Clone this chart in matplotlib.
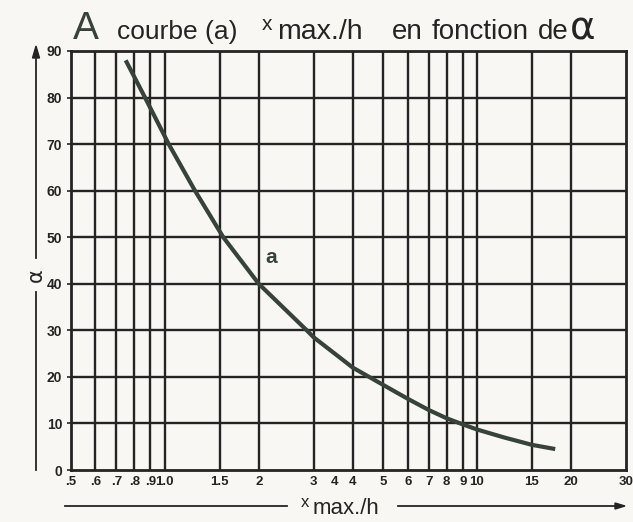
import matplotlib
matplotlib.use("Agg")
import matplotlib.pyplot as plt
from matplotlib.lines import Line2D

# ---- data ----
curve_x = [0.75, 0.865, 1.03, 1.25, 1.54, 2.0, 2.85, 3.0, 4.0, 5.0, 6.0, 7.0, 8.0, 9.0, 10.0, 12.2, 15.0, 17.8]
curve_alpha = [88, 80, 70, 60, 50, 40, 30, 28.5, 22, 18.3, 15.3, 12.9, 11.1, 9.8, 8.7, 7.0, 5.4, 4.5]

x_tick_values = [0.5, 0.6, 0.7, 0.8, 0.9, 1.0, 1.5, 2, 3, 3.5, 4, 5, 6, 7, 8, 9, 10, 15, 20, 30]
x_tick_labels = [".5", ".6", ".7", ".8", ".9", "1.0", "1.5", "2", "3", "4", "4", "5", "6", "7", "8", "9", "10", "15", "20", "30"]
x_grid_values = [0.6, 0.7, 0.8, 0.9, 1.0, 1.5, 2, 3, 4, 5, 6, 7, 8, 9, 10, 15, 20]
y_tick_values = [0, 10, 20, 30, 40, 50, 60, 70, 80, 90]
y_tick_labels = ["0", "10", "20", "30", "40", "50", "60", "70", "80", "90"]

INK = "#242424"
CURVE = "#36423a"
PAPER = "#f8f7f3"
plt.rcParams['font.family'] = ['Liberation Sans', 'DejaVu Sans']

fig = plt.figure(figsize=(6.33, 5.22), dpi=100, facecolor=PAPER)
ax = fig.add_axes([70.7/633, 1-470/522, (626-70.7)/633, (470-51)/522])
ax.set_facecolor(PAPER)
ax.set_xscale("log")
ax.set_xlim(0.5, 30)
ax.set_ylim(0, 90)

for xv in x_grid_values:
    ax.axvline(xv, color=INK, lw=1.7, zorder=1)
for yv in y_tick_values[1:-1]:
    ax.axhline(yv, color=INK, lw=1.7, zorder=1)
for s in ax.spines.values():
    s.set_color(INK)
    s.set_linewidth(2.0)

ax.plot(curve_x, curve_alpha, color=CURVE, lw=3.0, solid_capstyle="butt", zorder=3)
ax.text(2.2, 43.5, "a", fontsize=15, fontweight="bold", color=CURVE, ha="center", va="bottom")

ax.minorticks_off()
ax.set_xticks(x_tick_values)
ax.set_xticklabels(x_tick_labels)
ax.set_yticks(y_tick_values)
ax.set_yticklabels(y_tick_labels)
ax.tick_params(axis="x", length=0, pad=4, labelsize=9.5, colors=INK)
ax.tick_params(axis="y", length=3, width=1.2, pad=3, labelsize=10, colors=INK)
for lab in ax.get_xticklabels() + ax.get_yticklabels():
    lab.set_fontweight("bold")

# title
fig.text(73/633, 1-39/522, "A", fontsize=28, color=CURVE, ha="left", va="baseline")
fig.text(117/633, 1-39/522, "courbe (a)", fontsize=19, color=INK, ha="left", va="baseline")
fig.text(262/633, 1-30/522, "x", fontsize=15, color=INK, ha="left", va="baseline")
fig.text(277/633, 1-39/522, "max./h", fontsize=20.5, color=INK, ha="left", va="baseline")
fig.text(392/633, 1-39/522, "en", fontsize=20, color=INK, ha="left", va="baseline")
fig.text(432/633, 1-39/522, "fonction", fontsize=20, color=INK, ha="left", va="baseline")
fig.text(538/633, 1-39/522, "de", fontsize=20, color=INK, ha="left", va="baseline")
fig.text(570/633, 1-39/522, "\u03b1", fontsize=28, color=INK, ha="left", va="baseline",
         family=['DejaVu Sans'])

# x axis label with arrow line
fig.text(301/633, 1-507/522, "x", fontsize=12, color=INK, ha="left", va="baseline")
fig.text(313/633, 1-514/522, "max./h", fontsize=16, color=INK, ha="left", va="baseline")
fig.add_artist(Line2D([65/633, 287/633], [1-506/522, 1-506/522], color=INK, lw=1.3))
fig.add_artist(Line2D([398/633, 620/633], [1-506/522, 1-506/522], color=INK, lw=1.3))
fig.patches.append(matplotlib.patches.FancyArrow(615/633, 1-506/522, 10/633, 0, width=0.0,
                   head_width=6/522, head_length=10/633, length_includes_head=True,
                   color=INK, transform=fig.transFigure, figure=fig))

# y axis label with arrow line
fig.add_artist(Line2D([36/633, 36/633], [1-470/522, 1-292/522], color=INK, lw=1.3))
fig.add_artist(Line2D([36/633, 36/633], [1-258/522, 1-55/522], color=INK, lw=1.3))
fig.patches.append(matplotlib.patches.FancyArrow(36/633, 1-58/522, 0, 12/522, width=0.0,
                   head_width=7/633, head_length=12/522, length_includes_head=True,
                   color=INK, transform=fig.transFigure, figure=fig))
fig.text(36/633, 1-275/522, "\u03b1", fontsize=15, color=INK, ha="center", va="center",
         rotation=90, family=['DejaVu Sans'])

fig.savefig("out.png", dpi=100, facecolor=PAPER)
